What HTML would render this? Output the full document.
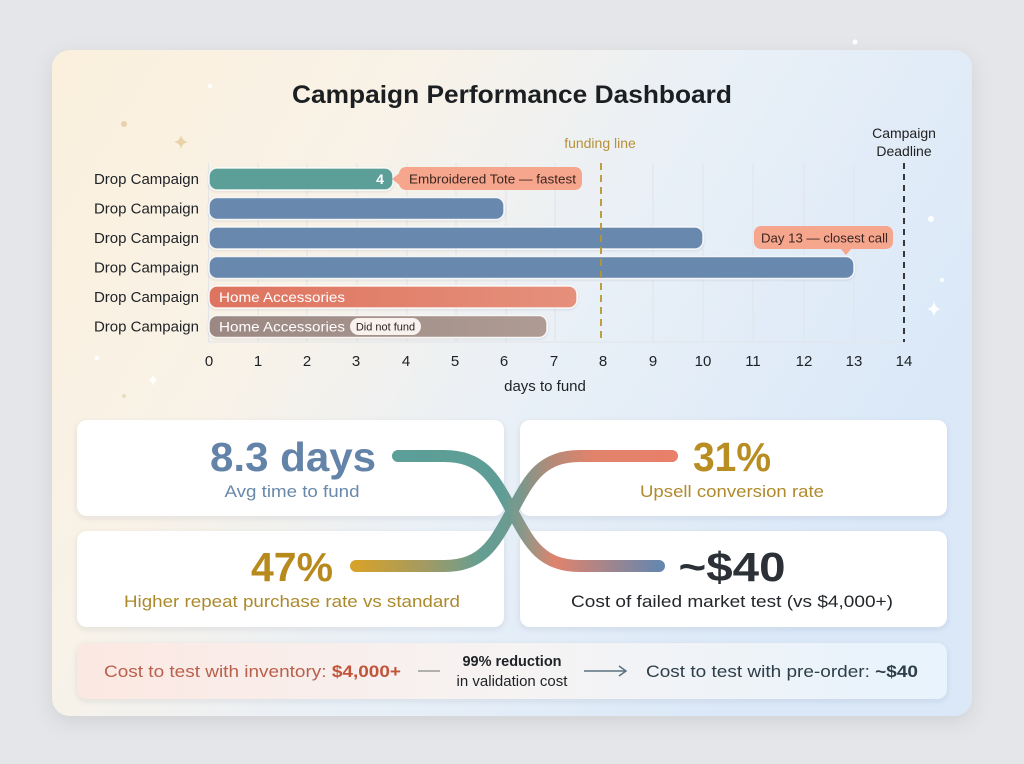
<!DOCTYPE html>
<html>
<head>
<meta charset="utf-8">
<style>
html,body{margin:0;padding:0;background:#e5e6e9;}
body{width:1024px;height:764px;overflow:hidden;}
svg{display:block;font-family:"Liberation Sans",Arial,sans-serif;}
</style>
</head>
<body>
<svg width="1024" height="764" viewBox="0 0 1024 764" xmlns="http://www.w3.org/2000/svg">
<defs>
  <linearGradient id="cardBg" x1="0" y1="0" x2="1" y2="0.45">
    <stop offset="0" stop-color="#fbf0dc"/>
    <stop offset="0.35" stop-color="#f8f2e8"/>
    <stop offset="0.62" stop-color="#e9f0f7"/>
    <stop offset="1" stop-color="#dae8f8"/>
  </linearGradient>
  <linearGradient id="stripBg" x1="0" y1="0" x2="1" y2="0">
    <stop offset="0" stop-color="#fce8e2"/>
    <stop offset="0.5" stop-color="#f6f3f3"/>
    <stop offset="1" stop-color="#e7f3fd"/>
  </linearGradient>
  <linearGradient id="bar5" x1="0" y1="0" x2="1" y2="0">
    <stop offset="0" stop-color="#de735e"/>
    <stop offset="1" stop-color="#e5907b"/>
  </linearGradient>
  <linearGradient id="bar6" x1="0" y1="0" x2="1" y2="0">
    <stop offset="0" stop-color="#9b8883"/>
    <stop offset="1" stop-color="#ae9b93"/>
  </linearGradient>
  <linearGradient id="curveA" gradientUnits="userSpaceOnUse" x1="398" y1="0" x2="660" y2="0">
    <stop offset="0" stop-color="#5c9f98"/>
    <stop offset="0.4" stop-color="#5e9d95"/>
    <stop offset="0.5" stop-color="#9a9584"/>
    <stop offset="0.6" stop-color="#e0836c"/>
    <stop offset="1" stop-color="#6587ae"/>
  </linearGradient>
  <linearGradient id="curveB" gradientUnits="userSpaceOnUse" x1="355" y1="0" x2="672" y2="0">
    <stop offset="0" stop-color="#d7a22a"/>
    <stop offset="0.22" stop-color="#a39a62"/>
    <stop offset="0.4" stop-color="#649e93"/>
    <stop offset="0.5" stop-color="#6e9a90"/>
    <stop offset="0.62" stop-color="#b48a78"/>
    <stop offset="0.75" stop-color="#e2836c"/>
    <stop offset="1" stop-color="#e8806a"/>
  </linearGradient>
  <filter id="bigShadow" x="-10%" y="-10%" width="120%" height="125%">
    <feDropShadow dx="0" dy="6" stdDeviation="10" flood-color="#000" flood-opacity="0.09"/>
  </filter>
  <filter id="cardShadow" x="-10%" y="-20%" width="120%" height="150%">
    <feDropShadow dx="0" dy="2" stdDeviation="3" flood-color="#2a3a50" flood-opacity="0.10"/>
  </filter>
  <filter id="barShadow" x="-5%" y="-30%" width="110%" height="170%">
    <feDropShadow dx="0" dy="1" stdDeviation="1.2" flood-color="#2a3a50" flood-opacity="0.12"/>
  </filter>
</defs>

<!-- outer card -->
<rect x="52" y="50" width="920" height="666" rx="18" fill="url(#cardBg)" filter="url(#bigShadow)"/>

<!-- decorations -->
<circle cx="855" cy="42" r="2.5" fill="#ffffff" opacity="0.9"/>
<circle cx="210" cy="86" r="2" fill="#ffffff" opacity="0.9"/>
<circle cx="124" cy="124" r="3" fill="#e6d3ad"/>
<path d="M181 135 Q182 141 188 142 Q182 143 181 149 Q180 143 174 142 Q180 141 181 135Z" fill="#e8d3a8"/>
<circle cx="931" cy="219" r="3" fill="#ffffff" opacity="0.9"/>
<circle cx="942" cy="280" r="2" fill="#ffffff" opacity="0.9"/>
<path d="M934 301 Q935 308 941 309 Q935 310 934 317 Q933 310 927 309 Q933 308 934 301Z" fill="#ffffff" opacity="0.95"/>
<path d="M153 374 Q154 379 158 380 Q154 381 153 386 Q152 381 148 380 Q152 379 153 374Z" fill="#ffffff" opacity="0.9"/>
<circle cx="97" cy="358" r="2.5" fill="#ffffff" opacity="0.8"/>
<circle cx="124" cy="396" r="2" fill="#e9dcc0"/>

<!-- title -->
<text x="512" y="103" text-anchor="middle" font-size="25" font-weight="bold" fill="#1c1f22" textLength="440" lengthAdjust="spacingAndGlyphs">Campaign Performance Dashboard</text>

<!-- grid -->
<g stroke="#dfe4ea" stroke-width="1">
  <line x1="258" y1="163" x2="258" y2="342"/>
  <line x1="307" y1="163" x2="307" y2="342"/>
  <line x1="357" y1="163" x2="357" y2="342"/>
  <line x1="407" y1="163" x2="407" y2="342"/>
  <line x1="456" y1="163" x2="456" y2="342"/>
  <line x1="506" y1="163" x2="506" y2="342"/>
  <line x1="555" y1="163" x2="555" y2="342"/>
  <line x1="653" y1="163" x2="653" y2="342"/>
  <line x1="703" y1="163" x2="703" y2="342"/>
  <line x1="753" y1="163" x2="753" y2="342"/>
  <line x1="804" y1="163" x2="804" y2="342"/>
  <line x1="854" y1="163" x2="854" y2="342"/>
</g>
<line x1="208.5" y1="163" x2="208.5" y2="342" stroke="#e2e5ea" stroke-width="1"/>
<line x1="208.5" y1="342" x2="904" y2="342" stroke="#e2e5ea" stroke-width="1"/>

<!-- row labels -->
<g font-size="15" fill="#1e2226" text-anchor="end">
  <text x="199" y="184">Drop Campaign</text>
  <text x="199" y="213.5">Drop Campaign</text>
  <text x="199" y="243">Drop Campaign</text>
  <text x="199" y="272.5">Drop Campaign</text>
  <text x="199" y="302">Drop Campaign</text>
  <text x="199" y="331.5">Drop Campaign</text>
</g>

<!-- bars -->
<g filter="url(#barShadow)" stroke="#ffffff" stroke-opacity="0.85" stroke-width="1.5">
  <rect x="209" y="168" width="184" height="22" rx="8" fill="#5b9f98"/>
  <rect x="209" y="197.5" width="295" height="22" rx="8" fill="#6788ad"/>
  <rect x="209" y="227" width="494" height="22" rx="8" fill="#6788ad"/>
  <rect x="209" y="256.5" width="645" height="22" rx="8" fill="#6788ad"/>
  <rect x="209" y="286" width="368" height="22" rx="8" fill="url(#bar5)"/>
  <rect x="209" y="315.5" width="338" height="22" rx="8" fill="url(#bar6)"/>
</g>
<text x="380" y="184" text-anchor="middle" font-size="14" font-weight="bold" fill="#ffffff">4</text>
<text x="219" y="302" font-size="14" fill="#ffffff" textLength="126" lengthAdjust="spacingAndGlyphs">Home Accessories</text>
<text x="219" y="331.5" font-size="14" fill="#ffffff" textLength="126" lengthAdjust="spacingAndGlyphs">Home Accessories</text>
<rect x="350" y="318" width="71" height="17" rx="8.5" fill="#f8f1ed"/>
<text x="385.5" y="330.5" text-anchor="middle" font-size="11" fill="#2a2422">Did not fund</text>

<!-- funding line -->
<line x1="601" y1="163" x2="601" y2="342" stroke="#b8962e" stroke-width="1.8" stroke-dasharray="7 5"/>
<text x="600" y="148" text-anchor="middle" font-size="14" fill="#b5913a">funding line</text>
<!-- deadline -->
<line x1="904" y1="163" x2="904" y2="342" stroke="#222" stroke-width="1.8" stroke-dasharray="6 5"/>
<text x="904" y="138" text-anchor="middle" font-size="14" fill="#222">Campaign</text>
<text x="904" y="156" text-anchor="middle" font-size="14" fill="#222">Deadline</text>

<!-- annotations -->
<path d="M392 179 L402 171 L402 187 Z" fill="#f6a68d"/>
<rect x="399" y="167" width="183" height="23" rx="7" fill="#f6a68d"/>
<text x="409" y="183.5" font-size="12.5" fill="#3b2520" textLength="167" lengthAdjust="spacingAndGlyphs">Embroidered Tote — fastest</text>
<rect x="754" y="226" width="139" height="23" rx="7" fill="#f6a68d"/>
<path d="M840 248 L852 248 L846 255 Z" fill="#f6a68d"/>
<text x="761" y="242.5" font-size="12.5" fill="#3b2520" textLength="127" lengthAdjust="spacingAndGlyphs">Day 13 — closest call</text>

<!-- ticks -->
<g font-size="15" fill="#1e2226" text-anchor="middle">
  <text x="209" y="366">0</text>
  <text x="258" y="366">1</text>
  <text x="307" y="366">2</text>
  <text x="356" y="366">3</text>
  <text x="406" y="366">4</text>
  <text x="455" y="366">5</text>
  <text x="504" y="366">6</text>
  <text x="554" y="366">7</text>
  <text x="603" y="366">8</text>
  <text x="653" y="366">9</text>
  <text x="703" y="366">10</text>
  <text x="753" y="366">11</text>
  <text x="804" y="366">12</text>
  <text x="854" y="366">13</text>
  <text x="904" y="366">14</text>
</g>
<text x="545" y="391" text-anchor="middle" font-size="15" fill="#1e2226">days to fund</text>

<!-- KPI cards -->
<g filter="url(#cardShadow)" fill="#ffffff">
  <rect x="77" y="420" width="427" height="96" rx="10"/>
  <rect x="520" y="420" width="427" height="96" rx="10"/>
  <rect x="77" y="531" width="427" height="96" rx="10"/>
  <rect x="520" y="531" width="427" height="96" rx="10"/>
</g>

<text x="293" y="471" text-anchor="middle" font-size="41" font-weight="bold" fill="#6383a8" textLength="166" lengthAdjust="spacingAndGlyphs">8.3 days</text>
<text x="292" y="497" text-anchor="middle" font-size="17" fill="#6a88aa" textLength="135" lengthAdjust="spacingAndGlyphs">Avg time to fund</text>

<text x="732" y="471" text-anchor="middle" font-size="41" font-weight="bold" fill="#b88d22" textLength="78" lengthAdjust="spacingAndGlyphs">31%</text>
<text x="732" y="497" text-anchor="middle" font-size="17" fill="#b08a2c" textLength="184" lengthAdjust="spacingAndGlyphs">Upsell conversion rate</text>

<text x="292" y="581" text-anchor="middle" font-size="41" font-weight="bold" fill="#b88a1e" textLength="82" lengthAdjust="spacingAndGlyphs">47%</text>
<text x="292" y="607" text-anchor="middle" font-size="17" fill="#ab8a2c" textLength="336" lengthAdjust="spacingAndGlyphs">Higher repeat purchase rate vs standard</text>

<text x="732" y="581" text-anchor="middle" font-size="41" font-weight="bold" fill="#2b3136" textLength="107" lengthAdjust="spacingAndGlyphs">~$40</text>
<text x="732" y="607" text-anchor="middle" font-size="17" fill="#23272b" textLength="322" lengthAdjust="spacingAndGlyphs">Cost of failed market test (vs $4,000+)</text>

<!-- connector curves -->
<path d="M672 456 H580 C540 456 529 480 512 511 C495 542 484 566 444 566 H356" fill="none" stroke="url(#curveB)" stroke-width="12" stroke-linecap="round"/>
<path d="M398 456 H444 C484 456 495 480 512 511 C529 542 540 566 580 566 H659" fill="none" stroke="url(#curveA)" stroke-width="12" stroke-linecap="round"/>

<!-- bottom strip -->
<rect x="77" y="643" width="870" height="56" rx="10" fill="url(#stripBg)" filter="url(#cardShadow)"/>
<text x="104" y="677" font-size="17" fill="#b9604c" textLength="297" lengthAdjust="spacingAndGlyphs">Cost to test with inventory: <tspan font-weight="bold" fill="#c0553b">$4,000+</tspan></text>
<line x1="418" y1="671" x2="440" y2="671" stroke="#9a9a9a" stroke-width="1.5"/>
<text x="512" y="666" text-anchor="middle" font-size="14.5" font-weight="bold" fill="#1e2226">99% reduction</text>
<text x="512" y="686" text-anchor="middle" font-size="15" fill="#1e2226">in validation cost</text>
<line x1="584" y1="671" x2="626" y2="671" stroke="#5a7280" stroke-width="1.5"/>
<path d="M619 666 L626 671 L619 676" fill="none" stroke="#5a7280" stroke-width="1.5"/>
<text x="646" y="677" font-size="17" fill="#2d3e48" textLength="272" lengthAdjust="spacingAndGlyphs">Cost to test with pre-order: <tspan font-weight="bold">~$40</tspan></text>
</svg>
</body>
</html>
